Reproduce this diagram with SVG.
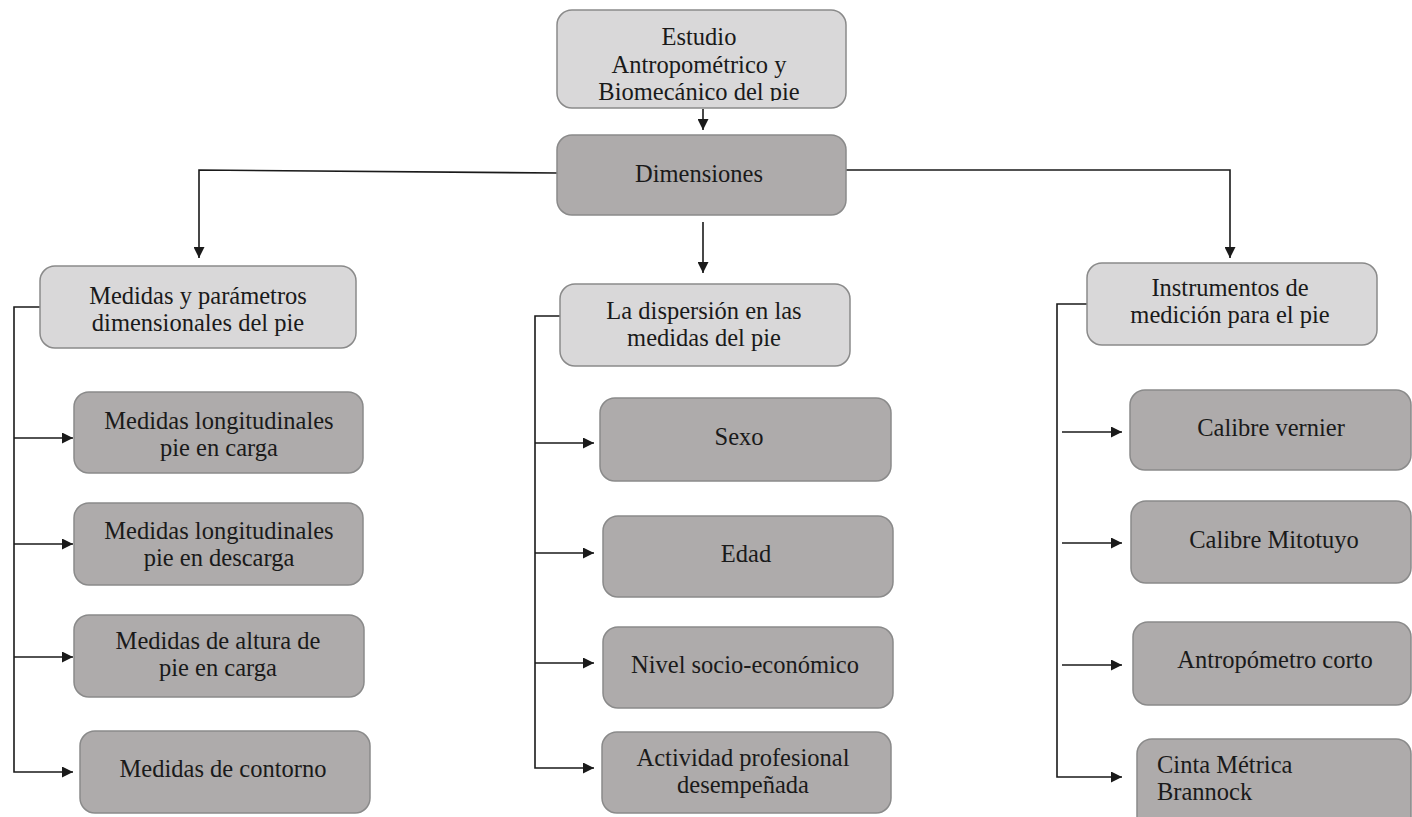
<svg xmlns="http://www.w3.org/2000/svg" width="1412" height="817" viewBox="0 0 1412 817">
<style>
.light{fill:#d9d8d9;stroke:#8a8a8a;stroke-width:1.5}
.dark{fill:#aeabab;stroke:#8a8a8a;stroke-width:1.5}
text{font-family:"Liberation Serif","Times New Roman",serif;font-size:24.5px;fill:#1a1a1a;text-anchor:middle}
.conn path,.conn line{fill:none;stroke:#1a1a1a;stroke-width:1.6}
</style>
<defs>
<marker id="ah" viewBox="0 0 10 10" refX="10" refY="5" markerWidth="11" markerHeight="11" markerUnits="userSpaceOnUse" orient="auto">
<path d="M0,0 L10,5 L0,10 Z" fill="#1a1a1a"/>
</marker>
<clipPath id="topclip"><rect x="557" y="10" width="289" height="91"/></clipPath>
</defs>
<rect width="1412" height="817" fill="#ffffff"/>

<g class="conn" id="connectors">
<line x1="703" y1="109" x2="703" y2="130" marker-end="url(#ah)"/>
<path d="M557,173 L199,170 L199,258" marker-end="url(#ah)"/>
<path d="M846,170 L1230,170 L1230,258" marker-end="url(#ah)"/>
<line x1="703" y1="222" x2="703" y2="273" marker-end="url(#ah)"/>
<path d="M40,307 L14,307 L14,772 L73,772" marker-end="url(#ah)"/>
<line x1="14" y1="438" x2="73" y2="438" marker-end="url(#ah)"/>
<line x1="14" y1="544" x2="73" y2="544" marker-end="url(#ah)"/>
<line x1="14" y1="657" x2="73" y2="657" marker-end="url(#ah)"/>
<path d="M560,316 L535,316 L535,768 L594,768" marker-end="url(#ah)"/>
<line x1="535" y1="443" x2="594" y2="443" marker-end="url(#ah)"/>
<line x1="535" y1="553" x2="594" y2="553" marker-end="url(#ah)"/>
<line x1="535" y1="663" x2="594" y2="663" marker-end="url(#ah)"/>
<path d="M1087,304 L1057,304 L1057,777 L1122,777" marker-end="url(#ah)"/>
<line x1="1062" y1="432" x2="1122" y2="432" marker-end="url(#ah)"/>
<line x1="1062" y1="543" x2="1122" y2="543" marker-end="url(#ah)"/>
<line x1="1062" y1="665" x2="1122" y2="665" marker-end="url(#ah)"/>
</g>

<g id="n-estudio">
<rect class="light" x="557" y="10" width="289" height="98" rx="15"/>
<text clip-path="url(#topclip)"><tspan x="699" y="45">Estudio</tspan><tspan x="699" y="73">Antropométrico y</tspan><tspan x="699" y="100">Biomecánico del pie</tspan></text>
</g>
<g id="n-dimensiones">
<rect class="dark" x="557" y="135" width="289" height="80" rx="15"/>
<text x="699" y="182">Dimensiones</text>
</g>

<g id="n-medidas">
<rect class="light" x="40" y="266" width="316" height="82" rx="15"/>
<text><tspan x="198" y="304">Medidas y parámetros</tspan><tspan x="198" y="331">dimensionales del pie</tspan></text>
</g>
<g id="n-long-carga">
<rect class="dark" x="74" y="392" width="289" height="81" rx="15"/>
<text><tspan x="219" y="429">Medidas longitudinales</tspan><tspan x="219" y="456">pie en carga</tspan></text>
</g>
<g id="n-long-descarga">
<rect class="dark" x="74" y="503" width="289" height="82" rx="15"/>
<text><tspan x="219" y="539">Medidas longitudinales</tspan><tspan x="219" y="566">pie en descarga</tspan></text>
</g>
<g id="n-altura">
<rect class="dark" x="74" y="615" width="290" height="82" rx="15"/>
<text><tspan x="218" y="649">Medidas de altura de</tspan><tspan x="218" y="676">pie en carga</tspan></text>
</g>
<g id="n-contorno">
<rect class="dark" x="80" y="731" width="290" height="82" rx="15"/>
<text x="223" y="777">Medidas de contorno</text>
</g>

<g id="n-dispersion">
<rect class="light" x="560" y="284" width="290" height="82" rx="15"/>
<text><tspan x="704" y="319">La dispersión en las</tspan><tspan x="704" y="346">medidas del pie</tspan></text>
</g>
<g id="n-sexo">
<rect class="dark" x="600" y="398" width="291" height="83" rx="15"/>
<text x="739" y="445">Sexo</text>
</g>
<g id="n-edad">
<rect class="dark" x="603" y="516" width="290" height="81" rx="15"/>
<text x="746" y="562">Edad</text>
</g>
<g id="n-nivel">
<rect class="dark" x="603" y="627" width="290" height="81" rx="15"/>
<text x="745" y="673">Nivel socio-económico</text>
</g>
<g id="n-actividad">
<rect class="dark" x="602" y="732" width="289" height="81" rx="15"/>
<text><tspan x="743" y="766">Actividad profesional</tspan><tspan x="743" y="793">desempeñada</tspan></text>
</g>

<g id="n-instrumentos">
<rect class="light" x="1087" y="263" width="290" height="82" rx="15"/>
<text><tspan x="1230" y="296">Instrumentos de</tspan><tspan x="1230" y="323">medición para el pie</tspan></text>
</g>
<g id="n-vernier">
<rect class="dark" x="1130" y="390" width="281" height="80" rx="15"/>
<text x="1271" y="436">Calibre vernier</text>
</g>
<g id="n-mitotuyo">
<rect class="dark" x="1131" y="501" width="280" height="82" rx="15"/>
<text x="1274" y="548">Calibre Mitotuyo</text>
</g>
<g id="n-antropometro">
<rect class="dark" x="1133" y="622" width="278" height="83" rx="15"/>
<text x="1275" y="668">Antropómetro corto</text>
</g>
<g id="n-cinta">
<rect class="dark" x="1137" y="739" width="274" height="95" rx="15"/>
<text style="text-anchor:start"><tspan x="1157" y="773">Cinta Métrica</tspan><tspan x="1157" y="800">Brannock</tspan></text>
</g>
</svg>
